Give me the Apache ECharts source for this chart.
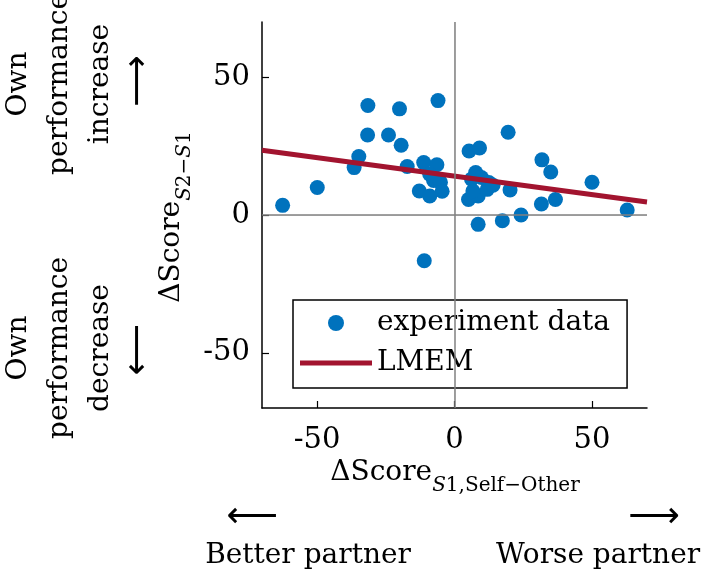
<!DOCTYPE html>
<html>
<head>
<meta charset="utf-8">
<script src="https://cdn.jsdelivr.net/npm/echarts@6/dist/echarts.min.js"></script>
<style>
  html, body { margin: 0; padding: 0; background: #fff; }
  #chart { width: 706px; height: 574px; }
</style>
</head>
<body>
<div id="chart"></div>
<script>
// ΔScore S1 self-other (x) and ΔScore S2-S1 (y), one entry per participant
const scoreSelfOther = [
  -62.5, -49.9, -36.5, -34.8, -31.5, -31.6, -24, -20, -19.4, -17.2,
  -6, -11.2, -6.4, -9, -7.6, -5.1, -12.8, -9, -4.5, -11,
  5.3, 9.1, 7.7, 6.2, 12.5, 5.1, 8.6, 11.9, 6.7, 20.2,
  8.6, 17.4, 24.2, 19.5, 31.8, 35, 50, 62.8, 36.7, 31.6,
  9.8, 14
];
const scoreChange = [
  3.5, 10, 17.2, 21.2, 39.7, 29, 29, 38.5, 25.3, 17.6,
  41.5, 19, 18.2, 14.8, 12.5, 11.9, 8.7, 6.9, 8.6, -16.6,
  23.2, 24.3, 15.4, 13, 11.8, 5.6, 6.9, 9.3, 8.7, 9.1,
  -3.4, -2.1, 0, 30, 20, 15.6, 11.9, 1.8, 5.6, 4,
  13.6, 10.8
];
// LMEM fit, evaluated at the axis ends
const lmemX = [-70, 70];
const lmemY = [23.5, 4.7];
// axis range and labelled ticks
const axisMin = -70;
const axisMax = 70;
const tickValues = [-50, 0, 50];

const serif = "'DejaVu Serif', serif";
const chart = echarts.init(document.getElementById("chart"));

const points = scoreSelfOther.map((x, i) => [x, scoreChange[i]]);
const fitLine = lmemX.map((x, i) => [x, lmemY[i]]);

function valueAxis() {
  return {
    type: "value",
    min: axisMin,
    max: axisMax,
    axisLine: { onZero: false, lineStyle: { color: "#000", width: 1.5 } },
    axisTick: { inside: true, length: 7, customValues: tickValues, lineStyle: { color: "#000", width: 1.2 } },
    axisLabel: { customValues: tickValues, color: "#000", fontFamily: serif, fontSize: 29 },
    splitLine: { show: true, showMinLine: false, showMaxLine: false, lineStyle: { color: "#e6e6e6", width: 1 } },
  };
}

const xAxis = valueAxis();
xAxis.axisLabel.margin = 18;
const yAxis = valueAxis();
yAxis.axisLabel.margin = 12;

// rich text pieces for the math-style axis names
const nameRich = {
  b: { fontFamily: serif, fontSize: 28, lineHeight: 37, verticalAlign: "top", fill: "#000" },
  i: { fontFamily: serif, fontSize: 20, fontStyle: "italic", lineHeight: 20, verticalAlign: "bottom", fill: "#000" },
  s: { fontFamily: serif, fontSize: 20, lineHeight: 20, verticalAlign: "bottom", fill: "#000" },
};

function label(text, x, y, opts) {
  return Object.assign({
    type: "text",
    x: x,
    y: y,
    style: {
      text: text,
      fontFamily: serif,
      fontSize: 28,
      lineHeight: 41,
      fill: "#000",
      align: "center",
      verticalAlign: "middle",
    },
  }, opts || {});
}

const arrowFont = "'DejaVu Sans', sans-serif";

const option = {
  animation: false,
  backgroundColor: "#fff",
  grid: { left: 262, right: 59, top: 22, bottom: 166, outerBoundsMode: "none" },
  xAxis: xAxis,
  yAxis: yAxis,
  legend: {
    data: [
      { name: "experiment data" },
      // plain thick bar instead of line+circle icon
      { name: "LMEM", icon: "path://M0,0L72,0L72,5L0,5Z" },
    ],
    orient: "vertical",
    left: 293,
    top: 300,
    padding: [8, 17, 10, 7],
    itemWidth: 72,
    itemHeight: 16,
    itemGap: 10,
    backgroundColor: "#fff",
    borderColor: "#000",
    borderWidth: 1.5,
    textStyle: { fontFamily: serif, fontSize: 28, color: "#000", lineHeight: 30 },
  },
  graphic: [
    // y axis name: ΔScore_{S2−S1}
    {
      type: "text", x: 176, y: 217, rotation: Math.PI / 2,
      style: { text: "{b|ΔScore}{i|S}{s|2−}{i|S}{s|1}", align: "center", verticalAlign: "middle", rich: nameRich },
    },
    // x axis name: ΔScore_{S1,Self−Other}
    {
      type: "text", x: 455, y: 477,
      style: { text: "{b|ΔScore}{i|S}{s|1,Self−Other}", align: "center", verticalAlign: "middle", rich: nameRich },
    },
    label("Own\nperformance\nincrease", 60, 84, { rotation: Math.PI / 2 }),
    label("Own\nperformance\ndecrease", 60, 348, { rotation: Math.PI / 2 }),
    label("⟶", 139, 81, { rotation: Math.PI / 2 }),
    label("⟵", 139, 350, { rotation: Math.PI / 2 }),
    label("⟵", 252, 518),
    label("⟶", 654, 518),
    label("Better partner", 308, 556),
    label("Worse partner", 598, 556),
  ],
  series: [
    {
      // zero reference lines
      type: "line",
      data: [],
      z: 1,
      markLine: {
        silent: true,
        symbol: "none",
        label: { show: false },
        lineStyle: { color: "#808080", width: 1.5, type: "solid" },
        data: [{ xAxis: 0 }, { yAxis: 0 }],
      },
    },
    {
      name: "experiment data",
      type: "scatter",
      data: points,
      symbolSize: 15,
      itemStyle: { color: "#0072BD", opacity: 1 },
      z: 3,
    },
    {
      name: "LMEM",
      type: "line",
      data: fitLine,
      symbol: "none",
      lineStyle: { color: "#A2142F", width: 5 },
      itemStyle: { color: "#A2142F" },
      z: 4,
    },
  ],
};

// arrows use a font that has the long-arrow glyphs
option.graphic.slice(4, 8).forEach((g) => {
  g.style.fontFamily = arrowFont;
  g.style.fontSize = 36;
  g.style.lineHeight = 36;
});

chart.setOption(option);
</script>
</body>
</html>
